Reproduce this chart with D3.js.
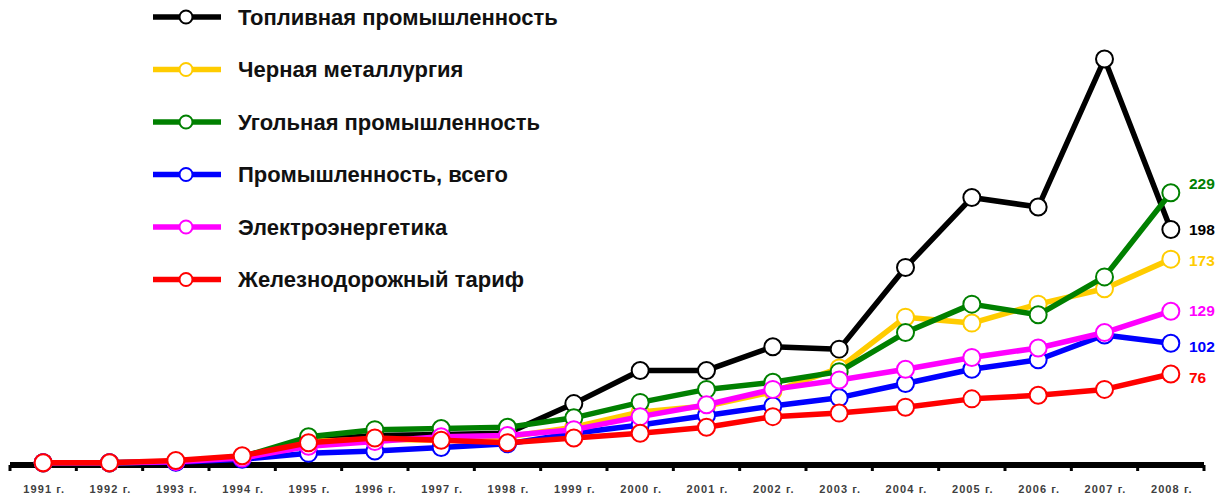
<!DOCTYPE html>
<html>
<head>
<meta charset="utf-8">
<script src="https://d3js.org/d3.v7.min.js"></script>
<style>
  body { margin: 0; background: #fff; }
  text { font-family: "Liberation Sans", Arial, sans-serif; }
</style>
</head>
<body>
<div id="chart"></div>
<script>
// categories
var years = ["1991 г.","1992 г.","1993 г.","1994 г.","1995 г.","1996 г.","1997 г.","1998 г.","1999 г.",
             "2000 г.","2001 г.","2002 г.","2003 г.","2004 г.","2005 г.","2006 г.","2007 г.","2008 г."];

// series values
var fuel    = [1, 1, 2, 6, 20, 24, 25, 26, 51, 79, 79, 99, 97, 166, 225, 217, 342, 198];
var metal   = [1, 1, 2, 6, 19, 21, 20, 23, 31, 44, 49, 61, 81, 124, 119, 135, 148, 173];
var coal    = [1, 1, 2, 6, 23, 29, 30, 31, 39, 52, 63, 69, 78, 111, 135, 126, 158, 229];
var total   = [1, 1, 1.5, 4, 9, 11, 14, 17, 26, 33, 41, 49, 56, 68, 80, 88, 109, 102];
var power   = [1, 1, 2, 5, 15, 19, 23, 24, 29, 40, 50, 63, 71, 80, 90, 98, 111, 129];
var railway = [1, 1, 3, 7, 18, 22, 20, 18, 22, 26, 31, 40, 43, 48, 55, 58, 63, 76];

var seriesNames = ["Топливная промышленность", "Черная металлургия", "Угольная промышленность",
                   "Промышленность, всего", "Электроэнергетика", "Железнодорожный тариф"];
var seriesColors = ["#000000", "#FFCC00", "#008000", "#0000FF", "#FF00FF", "#FF0000"];
var seriesValues = [fuel, metal, coal, total, power, railway];
var endLabelShift = [0, 1, -9, 3, -1, 4];

var width = 1228, height = 497;

var svg = d3.select("#chart").append("svg")
    .attr("width", width)
    .attr("height", height);

var x = d3.scaleBand()
    .domain(years)
    .range([10, 1204]);

var y = d3.scaleLinear()
    .domain([0, 342])
    .range([464, 59]);

// x axis: thick line with small ticks at category borders
var axisY = 465;
svg.append("line")
    .attr("x1", x.range()[0]).attr("x2", x.range()[1])
    .attr("y1", axisY).attr("y2", axisY)
    .attr("stroke", "#000").attr("stroke-width", 6);

var borders = years.map(function(d) { return x(d); }).concat([x.range()[1]]);
svg.selectAll(".tick")
    .data(borders)
    .enter().append("line")
    .attr("x1", function(d) { return d; }).attr("x2", function(d) { return d; })
    .attr("y1", axisY).attr("y2", axisY + 6)
    .attr("stroke", "#000").attr("stroke-width", 3);

svg.selectAll(".xlabel")
    .data(years)
    .enter().append("text")
    .attr("x", function(d) { return x(d) + x.bandwidth() / 2 + 1; })
    .attr("y", 493)
    .attr("text-anchor", "middle")
    .attr("font-size", 11)
    .attr("font-weight", "bold")
    .attr("letter-spacing", 1.1)
    .attr("fill", "#404040")
    .text(function(d) { return d; });

var line = d3.line()
    .x(function(d, i) { return x(years[i]) + x.bandwidth() / 2; })
    .y(function(d) { return y(d); });

// lines and markers, drawn in legend order
seriesValues.forEach(function(vals, k) {
    var g = svg.append("g");
    g.append("path")
        .datum(vals)
        .attr("fill", "none")
        .attr("stroke", seriesColors[k])
        .attr("stroke-width", 5.5)
        .attr("stroke-linejoin", "round")
        .attr("d", line);
    g.selectAll("circle")
        .data(vals)
        .enter().append("circle")
        .attr("cx", function(d, i) { return x(years[i]) + x.bandwidth() / 2; })
        .attr("cy", function(d) { return y(d); })
        .attr("r", 8.5)
        .attr("fill", "#fff")
        .attr("stroke", seriesColors[k])
        .attr("stroke-width", 2);
});

// end value labels
seriesValues.forEach(function(vals, k) {
    var last = vals[vals.length - 1];
    svg.append("text")
        .attr("x", 1189)
        .attr("y", y(last) + endLabelShift[k])
        .attr("dy", "0.35em")
        .attr("font-size", 15.5)
        .attr("font-weight", "bold")
        .attr("fill", seriesColors[k])
        .text(last);
});

// legend
var legend = svg.append("g");
seriesNames.forEach(function(name, k) {
    var ly = 17 + k * 52.5;
    legend.append("line")
        .attr("x1", 153).attr("x2", 221)
        .attr("y1", ly).attr("y2", ly)
        .attr("stroke", seriesColors[k]).attr("stroke-width", 5.5);
    legend.append("circle")
        .attr("cx", 186).attr("cy", ly).attr("r", 6.5)
        .attr("fill", "#fff")
        .attr("stroke", seriesColors[k]).attr("stroke-width", 2);
    legend.append("text")
        .attr("x", 238).attr("y", ly)
        .attr("dy", "0.36em")
        .attr("font-size", 22)
        .attr("font-weight", "bold")
        .attr("fill", "#111")
        .text(name);
});
</script>
</body>
</html>
